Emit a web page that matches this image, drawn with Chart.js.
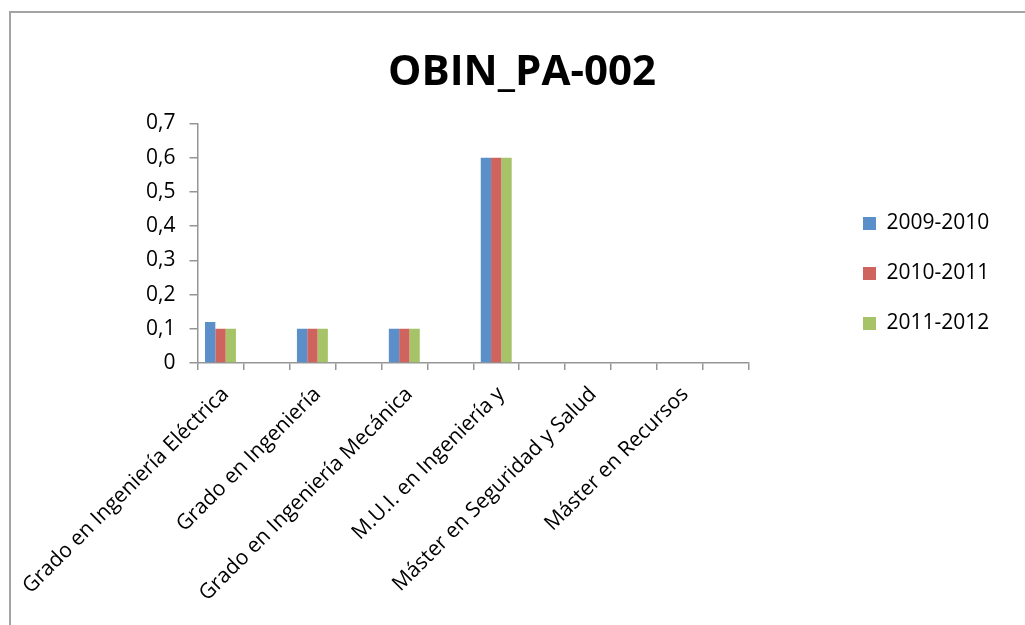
<!DOCTYPE html>
<html>
<head>
<meta charset="utf-8">
<script src="https://cdn.jsdelivr.net/npm/chart.js@4"></script>
<style>
  html, body { margin: 0; padding: 0; background: #fff; overflow: hidden; }
  #frame {
    position: absolute; left: 9px; top: 11px; width: 1100px; height: 700px;
    border-left: 2px solid #a3a3a3; border-top: 2px solid #a3a3a3;
  }
  #wrap { position: absolute; left: 0; top: 0; width: 1025px; height: 625px; }
</style>
</head>
<body>
<div id="frame"></div>
<div id="wrap"><canvas id="chart" width="1025" height="625"></canvas></div>
<script>
// titulaciones (solo se rotula una de cada dos)
var categories = [
    'Grado en Ingeniería Eléctrica', '',
    'Grado en Ingeniería', '',
    'Grado en Ingeniería Mecánica', '',
    'M.U.I. en Ingeniería y', '',
    'Máster en Seguridad y Salud', '',
    'Máster en Recursos', ''
];
var curso0910 = [0.12, 0, 0.1, 0, 0.1, 0, 0.6, 0, 0, 0, 0, 0];
var curso1011 = [0.1, 0, 0.1, 0, 0.1, 0, 0.6, 0, 0, 0, 0, 0];
var curso1112 = [0.1, 0, 0.1, 0, 0.1, 0, 0.6, 0, 0, 0, 0, 0];
var yTicks = [0, 0.1, 0.2, 0.3, 0.4, 0.5, 0.6, 0.7];

Chart.defaults.font.family = "'Open Sans', sans-serif";
Chart.defaults.color = '#000';

var axisColor = '#959595';

var ctx = document.getElementById('chart').getContext('2d');
var chart = new Chart(ctx, {
    type: 'bar',
    data: {
        labels: categories,
        datasets: [
            { label: '2009-2010', data: curso0910, backgroundColor: '#5b8fca' },
            { label: '2010-2011', data: curso1011, backgroundColor: '#cf635d' },
            { label: '2011-2012', data: curso1112, backgroundColor: '#a6c467' }
        ]
    },
    options: {
        responsive: false,
        animation: false,
        events: [],
        layout: { padding: { left: 54, right: 35, top: 0, bottom: 0 } },
        datasets: {
            bar: { categoryPercentage: 0.673, barPercentage: 1.0, borderWidth: 0 }
        },
        plugins: {
            title: {
                display: true,
                text: 'OBIN_PA-002',
                font: { size: 42, weight: 'bold' },
                color: '#000',
                padding: { top: 48, bottom: 25 }
            },
            legend: {
                position: 'right',
                align: 'end',
                fullSize: false,
                labels: {
                    boxWidth: 13,
                    boxHeight: 13,
                    padding: 29,
                    font: { size: 21 },
                    color: '#000'
                }
            },
            tooltip: { enabled: false }
        },
        scales: {
            x: {
                grid: {
                    display: true, drawOnChartArea: false, drawTicks: true,
                    tickLength: 7, color: axisColor, lineWidth: 1.5, offset: true
                },
                border: { display: true, color: axisColor, width: 1.5 },
                ticks: {
                    autoSkip: false, minRotation: 45, maxRotation: 45,
                    font: { size: 21 }, padding: 12, labelOffset: 5
                },
                afterFit: function (s) {
                    s.height = 262;
                    // las etiquetas giradas no deben empujar el área de trazado
                    s.paddingLeft = 0;
                    s.paddingRight = 0;
                }
            },
            y: {
                min: 0, max: 0.7,
                afterBuildTicks: function (s) {
                    s.ticks = yTicks.map(function (v) { return { value: v }; });
                },
                grid: {
                    display: true, drawOnChartArea: false, drawTicks: true,
                    tickLength: 8, color: axisColor, lineWidth: 1.5
                },
                border: { display: true, color: axisColor, width: 1.5 },
                ticks: {
                    font: { size: 21 }, padding: 14,
                    callback: function (v) {
                        return v === 0 ? '0' : v.toFixed(1).replace('.', ',');
                    }
                },
                afterFit: function (s) { s.width = 143.5; }
            },
            // hueco entre el área de trazado y la leyenda
            hueco: {
                position: 'right', display: true,
                grid: { display: false }, border: { display: false },
                ticks: { display: false },
                afterFit: function (s) { s.width = 85; }
            }
        }
    }
});
</script>
</body>
</html>
